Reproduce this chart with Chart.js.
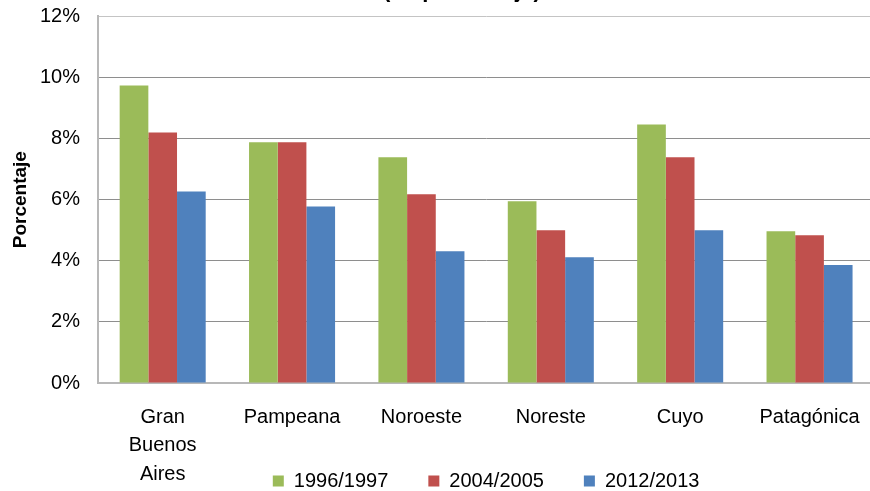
<!DOCTYPE html>
<html>
<head>
<meta charset="utf-8">
<script src="https://cdn.jsdelivr.net/npm/chart.js@4"></script>
<style>
    html, body { margin: 0; padding: 0; background: #fff; overflow: hidden; }
    #wrap { position: relative; width: 870px; height: 491px; overflow: hidden; }
    #chart { position: absolute; left: 0; top: -22px; }
</style>
</head>
<body>
<div id="wrap"><canvas id="chart" width="880" height="523"></canvas></div>
<script>
// Chart data
const regions = [['Gran', 'Buenos', 'Aires'], 'Pampeana', 'Noroeste', 'Noreste', 'Cuyo', 'Patagónica'];
const series1996 = [9.74, 7.88, 7.39, 5.95, 8.46, 4.97];
const series2004 = [8.2, 7.88, 6.18, 5.0, 7.39, 4.84];
const series2012 = [6.27, 5.78, 4.31, 4.12, 5.0, 3.86];
const yTicks = [0, 2, 4, 6, 8, 10, 12];

const FONT = '"Liberation Sans", Arial, Helvetica, sans-serif';

const ctx = document.getElementById('chart').getContext('2d');
const chart = new Chart(ctx, {
    type: 'bar',
    data: {
        labels: regions,
        datasets: [
            { label: '1996/1997', data: series1996, backgroundColor: '#9BBB59' },
            { label: '2004/2005', data: series2004, backgroundColor: '#C0504D' },
            { label: '2012/2013', data: series2012, backgroundColor: '#4F81BD' }
        ]
    },
    options: {
        responsive: false,
        animation: false,
        categoryPercentage: 0.665,
        barPercentage: 1,
        layout: { padding: { left: 0, right: 5, top: 0, bottom: 0 } },
        plugins: {
            title: {
                display: true,
                // only the bottom of this title shows in the original
                text: '        (en porcentaje)',
                color: '#000',
                font: { family: FONT, size: 22, weight: 'bold' },
                padding: { top: 0, bottom: 12 }
            },
            legend: {
                position: 'bottom',
                fullSize: false,
                labels: {
                    color: '#000',
                    font: { family: FONT, size: 20 },
                    boxWidth: 11,
                    boxHeight: 11,
                    padding: 40
                }
            },
            tooltip: { enabled: false }
        },
        scales: {
            x: {
                grid: { color: 'rgba(0,0,0,0)', drawTicks: false },
                border: { color: '#b8b8b8', width: 2 },
                ticks: {
                    color: '#000',
                    font: { family: FONT, size: 20, lineHeight: 1.42 },
                    padding: 20,
                    maxRotation: 0
                },
                // squeeze the axis so the legend sits beside the last label line,
                // and stop the labels from being clipped to the squeezed box
                afterFit: scale => {
                    scale.height = 48;
                    scale._computeLabelArea = () => undefined;
                }
            },
            y: {
                min: 0,
                max: 12,
                afterBuildTicks: scale => {
                    scale.ticks = yTicks.map(v => ({ value: v }));
                },
                grid: {
                    color: c => (c.tick && c.tick.value === 12 ? '#c4c4c4' : '#8e8e8e'),
                    drawTicks: false
                },
                border: { color: '#b8b8b8', width: 2 },
                ticks: {
                    color: '#000',
                    font: { family: FONT, size: 20 },
                    padding: 18,
                    callback: v => v + '%'
                },
                title: {
                    display: true,
                    text: 'Porcentaje',
                    color: '#000',
                    font: { family: FONT, size: 19, weight: 'bold' },
                    padding: { top: 9, bottom: 0 }
                },
                afterFit: scale => { scale.width = 98; }
            }
        }
    }
});
</script>
</body>
</html>
